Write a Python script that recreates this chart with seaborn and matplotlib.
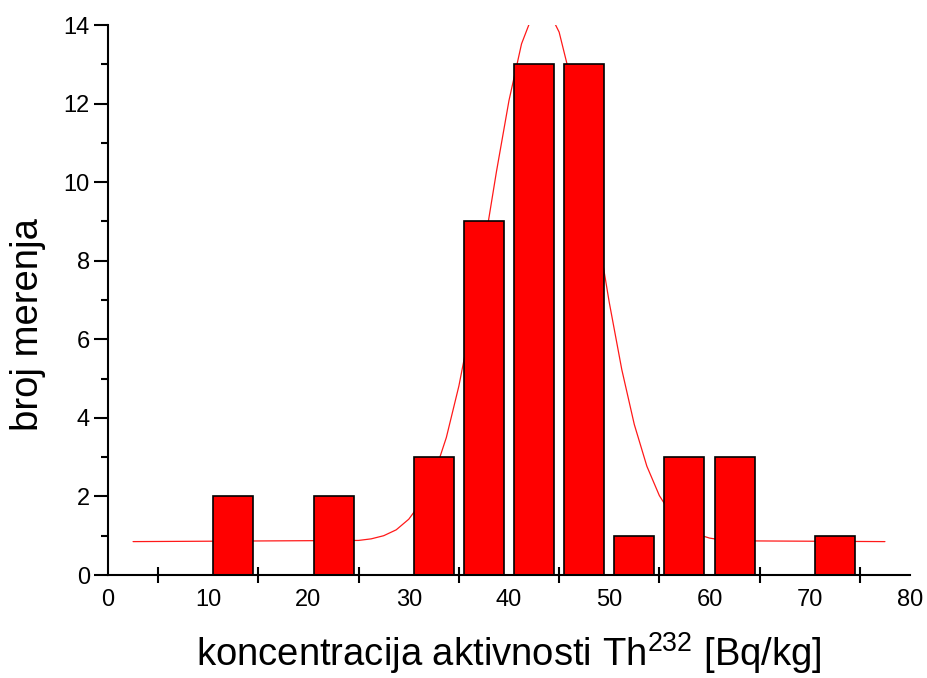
import matplotlib
matplotlib.use("Agg")
import matplotlib.pyplot as plt
import seaborn as sns
import pandas as pd
from matplotlib.ticker import MultipleLocator, FixedLocator

# Histogram data (bin centres and counts)
bin_centers = [12.5, 22.5, 32.5, 37.5, 42.5, 47.5, 52.5, 57.5, 62.5, 72.5]
counts = [2, 2, 3, 9, 13, 13, 1, 3, 3, 1]

# Gaussian fit curve
fit_x = [2.5, 25, 26.25, 27.5, 28.75, 30, 31.25, 32.5, 33.75, 35, 36.25, 37.5,
         38.75, 40, 41.25, 42.5, 43.75, 45, 46.25, 47.5, 48.75, 50, 51.25,
         52.5, 53.75, 55, 56.25, 57.5, 58.75, 60, 61.25, 62.5, 77.5]
fit_y = [0.85, 0.88, 0.92, 1.00, 1.15, 1.42, 1.85, 2.53, 3.50, 4.81, 6.44, 8.31,
         10.27, 12.08, 13.52, 14.35, 14.46, 13.82, 12.53, 10.80, 8.86, 6.94, 5.23,
         3.83, 2.77, 2.02, 1.52, 1.21, 1.04, 0.94, 0.89, 0.87, 0.85]

x_tick_labels = [0, 10, 20, 30, 40, 50, 60, 70, 80]
y_ticks = [0, 2, 4, 6, 8, 10, 12, 14]

sns.set_style("white")
plt.rcParams['font.family'] = ['Liberation Sans', 'DejaVu Sans']
plt.rcParams['mathtext.fontset'] = 'custom'
plt.rcParams['mathtext.rm'] = 'Liberation Sans'
plt.rcParams['mathtext.it'] = 'Liberation Sans'
plt.rcParams['text.color'] = 'black'
plt.rcParams['axes.labelcolor'] = 'black'
plt.rcParams['xtick.color'] = 'black'
plt.rcParams['ytick.color'] = 'black'
plt.rcParams['xtick.labelsize'] = 17
plt.rcParams['ytick.labelsize'] = 17

fig = plt.figure(figsize=(9.27, 6.78), dpi=100)
ax = fig.add_axes([108/927, 1 - 575/678, (910 - 108)/927, (575 - 25)/678])

df_bars = pd.DataFrame({"x": bin_centers, "n": counts})
df_fit = pd.DataFrame({"x": fit_x, "y": fit_y})

sns.lineplot(data=df_fit, x="x", y="y", ax=ax, color="#ff0000", linewidth=0.9,
             zorder=1, alpha=0.9)
sns.barplot(data=df_bars, x="x", y="n", ax=ax, native_scale=True,
            color="#ff0000", saturation=1, edgecolor="black", linewidth=1.2,
            zorder=2)

ax.set_xlim(0, 80)
ax.set_ylim(0, 14)

ax.xaxis.set_major_locator(FixedLocator(x_tick_labels))
ax.xaxis.set_minor_locator(FixedLocator([5, 15, 25, 35, 45, 55, 65, 75]))
ax.yaxis.set_major_locator(FixedLocator(y_ticks))
ax.yaxis.set_minor_locator(MultipleLocator(1))

ax.tick_params(axis="x", which="major", length=0, labelsize=17, pad=10)
ax.tick_params(axis="x", which="minor", direction="inout", length=11, width=1.5,
               bottom=True)
ax.tick_params(axis="y", which="major", direction="out", length=10, width=1.5,
               labelsize=17, pad=3, left=True)
ax.tick_params(axis="y", which="minor", direction="out", length=5, width=1.5,
               left=True)

for s in ["top", "right"]:
    ax.spines[s].set_visible(False)
for s in ["left", "bottom"]:
    ax.spines[s].set_linewidth(1.5)
    ax.spines[s].set_color("black")

ax.set_xlabel(r"koncentracija aktivnosti Th$^{\mathregular{232}}$ [Bq/kg]",
              fontsize=27.5, labelpad=14)
ax.set_ylabel("broj merenja", fontsize=27.5)
ax.yaxis.set_label_coords(-0.077, 0.4545)

fig.savefig("out.png", dpi=100, facecolor="white")
